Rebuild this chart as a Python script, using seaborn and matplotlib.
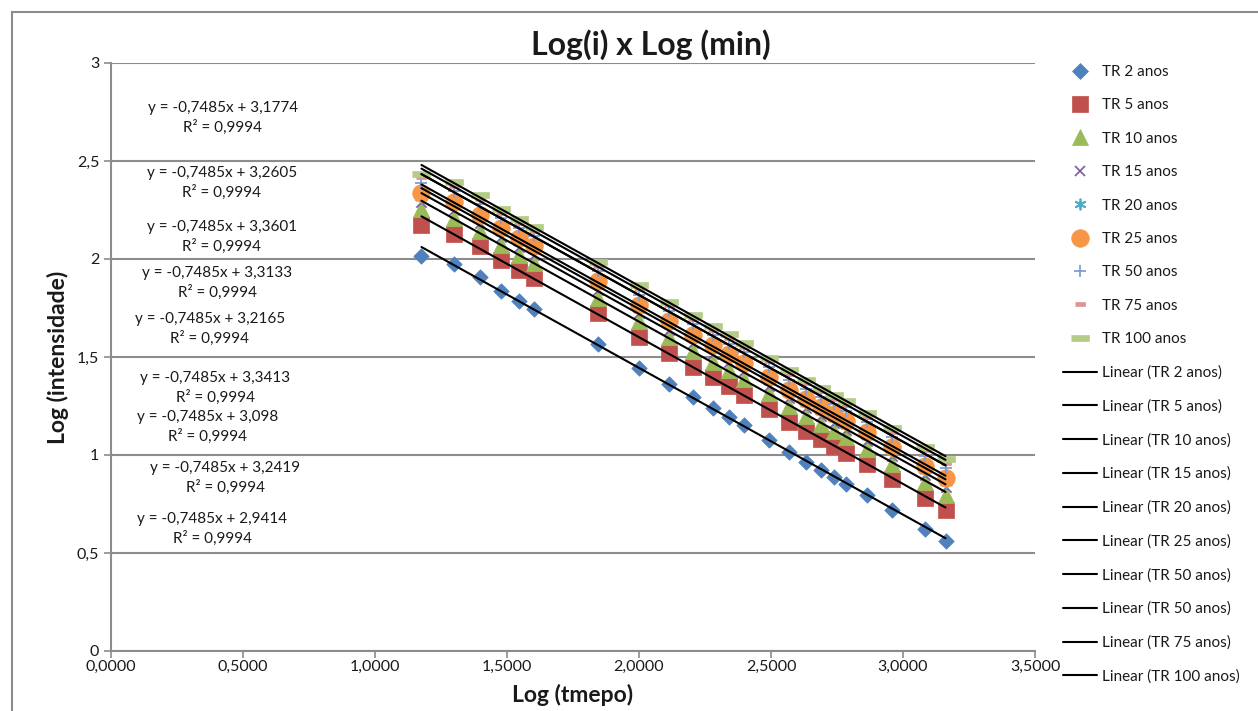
import numpy as np
import pandas as pd
import matplotlib
matplotlib.use("Agg")
import matplotlib.pyplot as plt
from matplotlib.lines import Line2D
from matplotlib.patches import Rectangle
import seaborn as sns

# --- dados ---
log_t = [1.176, 1.301, 1.398, 1.477, 1.544, 1.602, 1.845, 2.000, 2.114, 2.204, 2.279, 2.342,
         2.398, 2.491, 2.568, 2.633, 2.690, 2.740, 2.785, 2.863, 2.959, 3.083, 3.161]

tr2 = [2.017, 1.973, 1.907, 1.837, 1.785, 1.745, 1.566, 1.446, 1.364, 1.294, 1.239, 1.196,
       1.151, 1.078, 1.013, 0.965, 0.924, 0.887, 0.854, 0.795, 0.719, 0.624, 0.561]
tr5 = [2.174, 2.130, 2.064, 1.994, 1.942, 1.902, 1.723, 1.603, 1.521, 1.451, 1.396, 1.353,
       1.308, 1.235, 1.170, 1.122, 1.081, 1.044, 1.011, 0.952, 0.876, 0.781, 0.718]
tr10 = [2.253, 2.209, 2.143, 2.073, 2.021, 1.981, 1.802, 1.682, 1.600, 1.530, 1.475, 1.432,
        1.387, 1.314, 1.249, 1.201, 1.160, 1.123, 1.090, 1.031, 0.955, 0.860, 0.797]
tr15 = [2.293, 2.249, 2.183, 2.113, 2.061, 2.021, 1.842, 1.722, 1.640, 1.570, 1.515, 1.472,
        1.427, 1.354, 1.289, 1.241, 1.200, 1.163, 1.130, 1.071, 0.995, 0.900, 0.837]
tr20 = [2.318, 2.274, 2.208, 2.138, 2.086, 2.046, 1.867, 1.747, 1.665, 1.595, 1.540, 1.497,
        1.452, 1.379, 1.314, 1.266, 1.225, 1.188, 1.155, 1.096, 1.020, 0.925, 0.862]
tr25 = [2.337, 2.293, 2.227, 2.157, 2.105, 2.065, 1.886, 1.766, 1.684, 1.614, 1.559, 1.516,
        1.471, 1.398, 1.333, 1.285, 1.244, 1.207, 1.174, 1.115, 1.039, 0.944, 0.881]
tr50 = [2.389, 2.345, 2.279, 2.209, 2.157, 2.117, 1.938, 1.818, 1.736, 1.666, 1.611, 1.568,
        1.523, 1.450, 1.385, 1.337, 1.296, 1.259, 1.226, 1.167, 1.091, 0.996, 0.933]
tr75 = [2.417, 2.373, 2.307, 2.237, 2.185, 2.145, 1.966, 1.846, 1.764, 1.694, 1.639, 1.596,
        1.551, 1.478, 1.413, 1.365, 1.324, 1.287, 1.254, 1.195, 1.119, 1.024, 0.961]
tr100 = [2.436, 2.392, 2.326, 2.256, 2.204, 2.164, 1.985, 1.865, 1.783, 1.713, 1.658, 1.615,
         1.570, 1.497, 1.432, 1.384, 1.343, 1.306, 1.273, 1.214, 1.138, 1.043, 0.980]

series_names = ["TR 2 anos", "TR 5 anos", "TR 10 anos", "TR 15 anos", "TR 20 anos",
                "TR 25 anos", "TR 50 anos", "TR 75 anos", "TR 100 anos"]
series_vals = [tr2, tr5, tr10, tr15, tr20, tr25, tr50, tr75, tr100]

# linhas de tendencia (o Excel tem TR 50 duas vezes)
trend_names = ["Linear (TR 2 anos)", "Linear (TR 5 anos)", "Linear (TR 10 anos)",
               "Linear (TR 15 anos)", "Linear (TR 20 anos)", "Linear (TR 25 anos)",
               "Linear (TR 50 anos)", "Linear (TR 50 anos)", "Linear (TR 75 anos)",
               "Linear (TR 100 anos)"]
trend_slope = [-0.7485] * 10
trend_intercept = [2.9414, 3.098, 3.1774, 3.2165, 3.2419, 3.2605, 3.3133, 3.3133, 3.3413, 3.3601]

# equacoes mostradas no grafico (na ordem de cima para baixo)
eq_texts = ["y = -0,7485x + 3,1774", "y = -0,7485x + 3,2605", "y = -0,7485x + 3,3601",
            "y = -0,7485x + 3,3133", "y = -0,7485x + 3,2165", "y = -0,7485x + 3,3413",
            "y = -0,7485x + 3,098", "y = -0,7485x + 3,2419", "y = -0,7485x + 2,9414"]
r2_text = "R² = 0,9994"

# --- estilo ---
sns.set_style("white")
plt.rcParams['font.family'] = ['Lato', 'DejaVu Sans']

colors = ["#4F81BD", "#C0504D", "#9BBB59", "#8064A2", "#4BACC6", "#F79646",
          "#7E9ED4", "#D99694", "#B3CD86"]
bar_l = [(-1, -0.3), (1, -0.3), (1, 0.3), (-1, 0.3)]
markers = ["D", "s", "^", "x", (6, 2, 0), "o", "+", bar_l, bar_l]
msizes = [62, 130, 140, 55, 70, 160, 80, 55, 150]
mlw = [0.5, 0.5, 0.5, 1.3, 1.3, 0.5, 1.3, 0.5, 0.5]
filled = [True, True, True, False, False, True, False, True, True]

# posicoes das equacoes (coordenadas de dados)
eq_pos = [(0.424, 2.722), (0.420, 2.388), (0.420, 2.112), (0.402, 1.878), (0.375, 1.645),
          (0.394, 1.342), (0.367, 1.143), (0.432, 0.883), (0.383, 0.622)]

W, H = 1258, 711
fig = plt.figure(figsize=(W / 100, H / 100), dpi=100)
fig.patch.set_facecolor("white")
ax = fig.add_axes([111 / W, 1 - 651 / H, (1035 - 111) / W, (651 - 63) / H])

# moldura externa do grafico do Excel
fig.patches.append(Rectangle((12 / W, -0.1), 1.2, 1 - 12 / H + 0.1, transform=fig.transFigure,
                             fill=False, edgecolor="#8c8c8c", lw=1.5))

for i, (name, vals) in enumerate(zip(series_names, series_vals)):
    df = pd.DataFrame({"x": log_t, "y": vals})
    if filled[i]:
        sns.scatterplot(data=df, x="x", y="y", ax=ax, marker=markers[i], s=msizes[i],
                        color=colors[i], edgecolor=colors[i], linewidth=mlw[i], zorder=3 + i)
    else:
        sns.scatterplot(data=df, x="x", y="y", ax=ax, marker=markers[i], s=msizes[i],
                        color=colors[i], linewidth=mlw[i], zorder=3 + i)

x_ends = np.array([min(log_t), max(log_t)])
for b, m in zip(trend_intercept, trend_slope):
    dft = pd.DataFrame({"x": x_ends, "y": b + m * x_ends})
    sns.lineplot(data=dft, x="x", y="y", ax=ax, color="black", lw=1.5, zorder=20)

for t, (px, py) in zip(eq_texts, eq_pos):
    ax.text(px, py, t + "\n" + r2_text, ha="center", va="center", multialignment="center",
            fontsize=11, color="#1a1a1a", linespacing=1.4, zorder=25)

ax.set_xlim(0, 3.5)
ax.set_ylim(0, 3)
ax.set_xticks(np.arange(0, 3.51, 0.5))
ax.set_yticks(np.arange(0, 3.01, 0.5))
ax.set_xticklabels([f"{v:.4f}".replace(".", ",") for v in np.arange(0, 3.51, 0.5)])
ax.set_yticklabels(["0", "0,5", "1", "1,5", "2", "2,5", "3"])
ax.yaxis.grid(True, color="#8c8c8c", lw=1.5)
ax.xaxis.grid(False)
for s in ["top", "right"]:
    ax.spines[s].set_visible(False)
for s in ["left", "bottom"]:
    ax.spines[s].set_color("#8c8c8c")
    ax.spines[s].set_linewidth(1.5)
ax.tick_params(axis="both", direction="out", length=5, width=1.2, color="#8c8c8c",
               labelsize=11.5, labelcolor="#1a1a1a", left=True, bottom=True)
ax.tick_params(axis="x", pad=1.5)
ax.set_xlabel("")
ax.set_ylabel("")

fig.text(573 / W, 1 - 695 / H, "Log (tmepo)", ha="center", va="center",
         fontsize=16.5, fontweight="bold", color="#1a1a1a")
fig.text(58 / W, 1 - 357 / H, "Log (intensidade)", ha="center", va="center",
         rotation=90, fontsize=16.5, fontweight="bold", color="#1a1a1a")
fig.text(651 / W, 1 - 45 / H, "Log(i) x Log (min)", ha="center", va="center",
         fontsize=23, fontweight="bold", color="#1a1a1a")

# legenda
handles = []
for i in range(9):
    handles.append(Line2D([], [], marker=markers[i], linestyle="none", color=colors[i],
                          markersize=np.sqrt(msizes[i]), markeredgewidth=mlw[i]))
for _ in trend_names:
    handles.append(Line2D([], [], color="black", lw=1.5))
labels = series_names + trend_names
fig.legend(handles, labels, loc="upper left", bbox_to_anchor=(1063 / W, 1 - 65 / H),
           frameon=False, fontsize=11, handlelength=2.2, handletextpad=0.35,
           labelspacing=1.27, borderpad=0, borderaxespad=0, numpoints=1,
           labelcolor="#1a1a1a")

fig.savefig("out.png", dpi=100)
